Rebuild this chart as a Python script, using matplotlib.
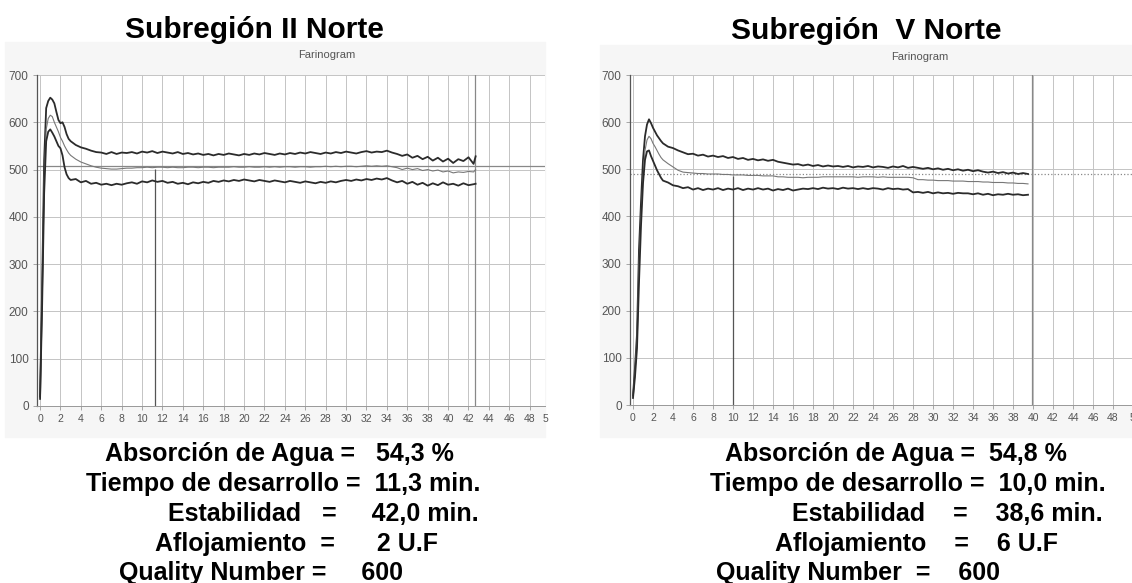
#Import necessary libraries
import numpy as np
import matplotlib
matplotlib.use("Agg")
import matplotlib.pyplot as plt
from matplotlib.patches import Rectangle

plt.rcParams['font.family'] = ['Liberation Sans', 'DejaVu Sans']

# ---------------- data ----------------
# time axis (min) for the left chart (Subregion II Norte)
left_time = [0, 0.2, 0.4, 0.6, 0.8, 1.0, 1.2, 1.4, 1.6, 1.8, 2.0, 2.2, 2.4, 2.6, 2.8, 3.0,
             3.5, 4, 4.5, 5, 5.5, 6, 6.5, 7, 7.5, 8,
             8.5, 9, 9.5, 10, 10.5, 11, 11.5, 12, 12.5, 13,
             13.5, 14, 14.5, 15, 15.5, 16, 16.5, 17, 17.5, 18,
             18.5, 19, 19.5, 20, 20.5, 21, 21.5, 22, 22.5, 23,
             23.5, 24, 24.5, 25, 25.5, 26, 26.5, 27, 27.5, 28,
             28.5, 29, 29.5, 30, 30.5, 31, 31.5, 32, 32.5, 33,
             33.5, 34, 34.5, 35, 35.5, 36, 36.5, 37, 37.5, 38,
             38.5, 39, 39.5, 40, 40.5, 41, 41.5, 42, 42.5, 42.7]

left_upper = [20, 250, 520, 630, 645, 652, 648, 640, 622, 605, 598, 600, 590, 575, 565, 560,
              552, 547, 544, 540, 537, 536, 533, 537, 533, 536,
              535, 537, 534, 538, 536, 539, 535, 538, 536, 534,
              537, 533, 535, 532, 534, 531, 533, 530, 533, 531,
              534, 532, 530, 533, 531, 534, 532, 535, 533, 531,
              534, 532, 535, 533, 536, 534, 537, 535, 533, 536,
              534, 537, 535, 538, 536, 534, 537, 539, 536, 538,
              537, 540, 536, 533, 529, 532, 525, 529, 522, 527,
              519, 525, 517, 523, 514, 522, 518, 526, 512, 528]

left_middle = [20, 230, 480, 585, 608, 615, 612, 600, 590, 580, 568, 560, 550, 542, 535, 530,
               522, 516, 512, 508, 505, 503, 502, 501, 501, 502,
               503, 503, 504, 504, 505, 504, 505, 505, 504, 505,
               504, 504, 505, 505, 504, 505, 505, 504, 505, 505,
               505, 506, 505, 505, 506, 505, 505, 506, 505, 506,
               505, 506, 506, 505, 506, 506, 505, 506, 506, 507,
               506, 507, 506, 507, 507, 506, 507, 508, 507, 508,
               507, 508, 506, 504, 500, 503, 500, 502, 498, 500,
               497, 499, 495, 497, 493, 495, 494, 496, 495, 500]

left_lower = [15, 210, 450, 560, 580, 585, 578, 570, 560, 550, 545, 530, 505, 490, 482, 478,
              480, 473, 476, 470, 472, 468, 470, 467, 470, 468,
              471, 473, 470, 475, 473, 477, 474, 476, 472, 474,
              470, 472, 469, 473, 471, 474, 472, 476, 474, 477,
              475, 478, 476, 479, 477, 475, 478, 476, 474, 477,
              475, 473, 476, 474, 472, 475, 473, 471, 474, 472,
              475, 473, 476, 478, 476, 479, 477, 480, 478, 481,
              479, 482, 477, 473, 476, 470, 474, 468, 472, 466,
              471, 467, 473, 468, 470, 466, 471, 467, 469, 470]

# time axis (min) for the right chart (Subregion V Norte)
right_time = [0, 0.2, 0.4, 0.6, 0.8, 1.0, 1.2, 1.4, 1.6, 1.8, 2.0, 2.2, 2.4, 2.6, 2.8, 3.0,
              3.5, 4, 4.5, 5, 5.5, 6, 6.5, 7, 7.5, 8,
              8.5, 9, 9.5, 10, 10.5, 11, 11.5, 12, 12.5, 13,
              13.5, 14, 14.5, 15, 15.5, 16, 16.5, 17, 17.5, 18,
              18.5, 19, 19.5, 20, 20.5, 21, 21.5, 22, 22.5, 23,
              23.5, 24, 24.5, 25, 25.5, 26, 26.5, 27, 27.5, 28,
              28.5, 29, 29.5, 30, 30.5, 31, 31.5, 32, 32.5, 33,
              33.5, 34, 34.5, 35, 35.5, 36, 36.5, 37, 37.5, 38,
              38.5, 39, 39.5]

right_upper = [20, 80, 150, 330, 430, 520, 570, 595, 606, 598, 588, 580, 572, 566, 560, 555,
               548, 545, 540, 536, 532, 533, 529, 531, 527, 529,
               526, 528, 524, 526, 522, 524, 520, 522, 519, 521,
               518, 520, 516, 514, 512, 510, 511, 508, 510, 507,
               509, 506, 508, 506, 507, 505, 507, 504, 506, 505,
               507, 504, 506, 505, 503, 506, 504, 507, 503, 505,
               503, 501, 503, 500, 502, 499, 501, 498, 500, 497,
               499, 496, 498, 495, 493, 495, 492, 494, 491, 493,
               490, 492, 490]

right_middle = [20, 70, 140, 300, 400, 480, 540, 562, 570, 565, 555, 548, 540, 532, 525, 520,
                512, 505, 498, 494, 493, 492, 491, 491, 490, 490,
                490, 489, 489, 488, 488, 488, 487, 487, 487, 486,
                486, 486, 484, 484, 483, 483, 483, 482, 483, 483,
                483, 484, 484, 484, 484, 484, 484, 484, 483, 484,
                484, 484, 483, 484, 483, 483, 483, 483, 483, 482,
                478, 478, 477, 477, 476, 476, 476, 475, 475, 475,
                474, 474, 474, 473, 473, 472, 472, 472, 471, 471,
                470, 470, 469]

right_lower = [15, 60, 120, 260, 380, 470, 520, 538, 540, 528, 518, 508, 498, 490, 482, 476,
               472, 466, 464, 460, 462, 457, 460, 456, 459, 457,
               460, 456, 459, 457, 460, 456, 459, 457, 460, 457,
               459, 455, 458, 456, 459, 455, 457, 459, 458, 460,
               458, 461, 459, 460, 458, 461, 459, 460, 458, 460,
               458, 460, 459, 457, 460, 458, 459, 457, 458, 451,
               452, 450, 452, 449, 451, 449, 450, 448, 450, 449,
               449, 447, 449, 446, 448, 445, 447, 446, 448, 446,
               447, 445, 446]

# marker lines drawn on the scans: (development time, end of test, reference level)
left_marks = [11.3, 42.6, 507]
right_marks = [10.0, 39.9, 491]

titles = ["Subregión II Norte", "Subregión  V Norte"]

left_text = ["Absorción de Agua =   54,3 %",
             "Tiempo de desarrollo =  11,3 min.",
             "Estabilidad   =     42,0 min.",
             "Aflojamiento  =      2 U.F",
             "Quality Number =     600"]
right_text = ["Absorción de Agua =  54,8 %",
              "Tiempo de desarrollo =  10,0 min.",
              "Estabilidad    =    38,6 min.",
              "Aflojamiento    =    6 U.F",
              "Quality Number  =    600"]

x_ticks = list(range(0, 49, 2))
y_ticks = list(range(0, 701, 100))

W, H = 1132, 583


def draw_panel(rect, xlim, t, up, mid, low, marks, dotted_ref):
    ax = fig.add_axes(rect)
    ax.set_facecolor('white')
    ax.set_xlim(xlim)
    ax.set_ylim(0, 700)
    ax.set_xticks(x_ticks)
    ax.set_yticks(y_ticks)
    ax.tick_params(axis='both', color='#999999', length=3, width=0.6, pad=3)
    ax.tick_params(axis='x', labelsize=7.5, labelcolor='#555555')
    ax.tick_params(axis='y', labelsize=8.5, labelcolor='#555555')
    ax.grid(True, color='#c4c4c4', linewidth=0.7)
    for side in ['top', 'right']:
        ax.spines[side].set_visible(False)
    ax.spines['left'].set_color('#555555')
    ax.spines['bottom'].set_color('#999999')
    ax.spines['left'].set_linewidth(0.9)
    ax.spines['bottom'].set_linewidth(0.7)

    # reference lines from the instrument print
    dev_time, end_time, ref_level = marks
    ax.axhline(ref_level, color='#888888', linewidth=0.9,
               linestyle=':' if dotted_ref else '-')
    ax.vlines(dev_time, 0, ref_level - 5, color='#555555', linewidth=0.9)
    ax.axvline(end_time, color='#888888', linewidth=0.9)

    # the three farinogram curves
    ax.plot(t, up, color='#2b2b2b', linewidth=1.3)
    ax.plot(t, mid, color='#777777', linewidth=0.8)
    ax.plot(t, low, color='#2b2b2b', linewidth=1.3)

    # the "50" label is cut off at the edge of the scan
    ax.annotate("5", xy=(xlim[1], 0), xycoords=('data', 'axes fraction'),
                xytext=(0, -6), textcoords='offset points', ha='center', va='top',
                fontsize=7.5, color='#555555')
    return ax


fig = plt.figure(figsize=(W / 100, H / 100), dpi=100)

# light grey background of the scanned charts
fig.patches.append(Rectangle((5 / W, 1 - 437 / H), 540 / W, 395 / H,
                             transform=fig.transFigure, color='#f6f6f6', zorder=-1))
fig.patches.append(Rectangle((600 / W, 1 - 437 / H), 532 / W, 392 / H,
                             transform=fig.transFigure, color='#f6f6f6', zorder=-1))

ax1 = draw_panel([37 / W, 1 - 406 / H, 508 / W, 331 / H], (-0.3, 49.5),
                 left_time, left_upper, left_middle, left_lower, left_marks, False)
ax2 = draw_panel([630 / W, 1 - 405 / H, 502 / W, 330 / H], (-0.3, 49.9),
                 right_time, right_upper, right_middle, right_lower, right_marks, True)

# small "Farinogram" heading of the print
fig.text(327 / W, 1 - 55 / H, "Farinogram", fontsize=8, color='#555555', ha='center', va='center')
fig.text(920 / W, 1 - 57 / H, "Farinogram", fontsize=8, color='#555555', ha='center', va='center')

# panel titles
fig.text(254 / W, 1 - 38 / H, titles[0], fontsize=21.5, fontweight='bold', ha='center', va='baseline')
fig.text(866 / W, 1 - 39 / H, titles[1], fontsize=21.5, fontweight='bold', ha='center', va='baseline')

# results under each chart
left_x = [105, 86, 168, 155, 119]
right_x = [725, 710, 792, 775, 716]
line_y = [461, 491, 521, 551, 580]
for s, x, y in zip(left_text, left_x, line_y):
    fig.text(x / W, 1 - y / H, s, fontsize=18, fontweight='bold', ha='left', va='baseline')
for s, x, y in zip(right_text, right_x, line_y):
    fig.text(x / W, 1 - y / H, s, fontsize=18, fontweight='bold', ha='left', va='baseline')

fig.savefig("out.png", dpi=100)
